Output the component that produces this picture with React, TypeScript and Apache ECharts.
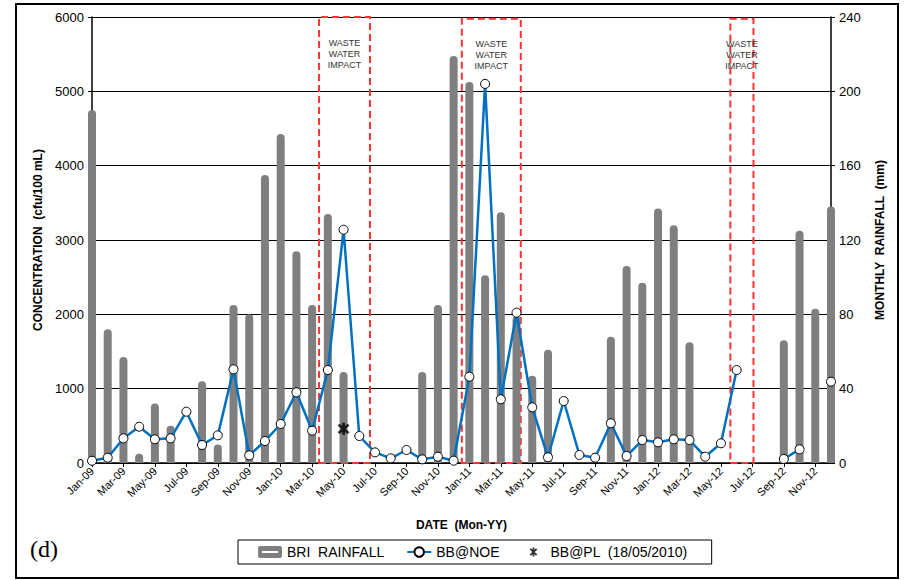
import React, { useEffect, useRef } from "react";
import * as echarts from "echarts";

// Month positions: 0 = Jan-09 ... 47 = Dec-12
const tickLabels = [
  "Jan-09", "Mar-09", "May-09", "Jul-09", "Sep-09", "Nov-09",
  "Jan-10", "Mar-10", "May-10", "Jul-10", "Sep-10", "Nov-10",
  "Jan-11", "Mar-11", "May-11", "Jul-11", "Sep-11", "Nov-11",
  "Jan-12", "Mar-12", "May-12", "Jul-12", "Sep-12", "Nov-12",
];

// BRI monthly rainfall (mm), Jan-09 .. Dec-12
const rainfall = [
  190, 72, 57, 5, 32, 20, 0, 44, 10, 85, 80, 155,
  177, 114, 85, 134, 49, 0, 0, 0, 0, 49, 85, 219,
  205, 101, 135, 79, 47, 61, 0, 0, 0, 68, 106, 97,
  137, 128, 65, 0, 0, 0, 0, 0, 66, 125, 83, 138,
];

// BB@NOE concentration (cfu/100 mL), Jan-09 .. Dec-12 (null = no sample)
const bbNoe: (number | null)[] = [
  30, 71, 332, 488, 319, 332, 690, 242, 372, 1260, 103, 296,
  525, 951, 435, 1251, 3138, 363, 143, 63, 175, 49, 85, 31,
  1161, 5100, 857, 2022, 749, 77, 834, 108, 71, 534, 94, 309,
  278, 319, 309, 85, 265, 1251, null, null, 54, 184, null, 1094,
];

// BB@PL single sample (18/05/2010)
const bbPlMonth = 16;
const bbPlValue = 460;

// Waste water impact periods (in month-position units)
const impactStart = [14.44, 23.52, 40.6];
const impactEnd = [17.68, 27.27, 42.07];
const impactTop = [6000, 5975, 5975];

const FONT = "'Liberation Sans', Arial, sans-serif";

const asteriskPath =
  "path://M-1.1,-5.5 L1.1,-5.5 L1.1,5.5 L-1.1,5.5 Z " +
  "M3.1,4.7 L-4.7,-3.1 L-3.1,-4.7 L4.7,3.1 Z " +
  "M4.7,-3.1 L-3.1,4.7 L-4.7,3.1 L3.1,-4.7 Z";

const asteriskLegendPath =
  "path://M-12,-6 M12,6 M-0.9,-4.5 L0.9,-4.5 L0.9,4.5 L-0.9,4.5 Z " +
  "M2.5,3.8 L-3.8,-2.5 L-2.5,-3.8 L3.8,2.5 Z " +
  "M3.8,-2.5 L-2.5,3.8 L-3.8,2.5 L2.5,-3.8 Z";

const barLegendPath =
  "path://M2,0 L22,0 Q24,0 24,2 L24,10 Q24,12 22,12 L2,12 Q0,12 0,10 L0,2 Q0,0 2,0 Z M4,5 L4,7 L20,7 L20,5 Z";

export default function App() {
  const ref = useRef<HTMLDivElement>(null);

  useEffect(() => {
    document.body.style.margin = "0";
    if (!ref.current) return;
    const chart = echarts.init(ref.current, undefined, { renderer: "svg" });

    const months = rainfall.map((_, i) => i);
    const barData = months.map((m) => [m, rainfall[m]]);
    const lineData = months.map((m) => [m, bbNoe[m] === null ? "-" : bbNoe[m]]);

    const markAreaData = impactStart.map((s, k) => [
      {
        xAxis: s,
        yAxis: 0,
        label: {
          show: true,
          position: "insideTop",
          distance: 21,
          formatter: "WASTE\nWATER\nIMPACT",
          color: "#333",
          fontSize: 9,
          lineHeight: 11,
          fontFamily: FONT,
        },
      },
      { xAxis: impactEnd[k], yAxis: impactTop[k] },
    ]);

    chart.setOption({
      animation: false,
      textStyle: { fontFamily: FONT },
      grid: { left: 92, right: 73, top: 17, bottom: 117 },
      legend: {
        left: 238,
        top: 540,
        padding: [5, 24, 5, 20],
        borderColor: "#000",
        borderWidth: 1,
        itemGap: 22,
        itemWidth: 24,
        itemHeight: 12,
        textStyle: { fontSize: 14, color: "#000", fontFamily: FONT },
        data: [
          { name: "BRI  RAINFALL", icon: barLegendPath, itemStyle: { color: "#7f7f7f" } },
          { name: "BB@NOE" },
          { name: "BB@PL  (18/05/2010)", icon: asteriskLegendPath, itemStyle: { color: "#000" } },
        ],
      },
      xAxis: {
        type: "value",
        min: 0,
        max: 47,
        interval: 2,
        name: "DATE  (Mon-YY)",
        nameLocation: "middle",
        nameGap: 56,
        nameTextStyle: { fontSize: 12, fontWeight: "bold", color: "#000" },
        axisLine: { lineStyle: { color: "#000", width: 1.5 } },
        axisTick: { show: true, length: 4, lineStyle: { color: "#000" } },
        splitLine: { show: false },
        axisLabel: {
          rotate: 45,
          fontSize: 11,
          color: "#000",
          margin: 6,
          showMaxLabel: false,
          formatter: (v: number) => tickLabels[Math.round(v / 2)] ?? "",
        },
      },
      yAxis: [
        {
          type: "value",
          min: 0,
          max: 6000,
          interval: 1000,
          name: "CONCENTRATION  (cfu/100 mL)",
          nameLocation: "middle",
          nameRotate: 90,
          nameGap: 46,
          nameTextStyle: { fontSize: 12, fontWeight: "bold", color: "#000" },
          axisLine: { show: true, lineStyle: { color: "#000", width: 1.5 } },
          axisTick: { show: true, length: 4, lineStyle: { color: "#000" } },
          axisLabel: { fontSize: 13, color: "#000", margin: 8, formatter: (v: number) => String(v) },
          splitLine: { show: true, lineStyle: { color: "#000", width: 1 } },
        },
        {
          type: "value",
          min: 0,
          max: 240,
          interval: 40,
          name: "MONTHLY  RAINFALL  (mm)",
          nameLocation: "middle",
          nameRotate: 90,
          nameGap: 43,
          nameTextStyle: { fontSize: 12, fontWeight: "bold", color: "#000" },
          axisLine: { show: true, lineStyle: { color: "#000", width: 1.5 } },
          axisTick: { show: true, length: 4, lineStyle: { color: "#000" } },
          axisLabel: { fontSize: 13, color: "#000", margin: 8, formatter: (v: number) => String(v) },
          splitLine: { show: false },
        },
      ],
      series: [
        {
          name: "BRI  RAINFALL",
          type: "bar",
          yAxisIndex: 1,
          barWidth: 8,
          clip: true,
          itemStyle: { color: "#7f7f7f", borderRadius: [4, 4, 0, 0] },
          data: barData,
          z: 2,
        },
        {
          name: "BB@NOE",
          type: "line",
          yAxisIndex: 0,
          data: lineData,
          connectNulls: false,
          symbol: "circle",
          symbolSize: 9,
          showAllSymbol: true,
          lineStyle: { color: "#0070C0", width: 2.5 },
          itemStyle: { color: "#fff", borderColor: "#000", borderWidth: 1 },
          z: 4,
          markArea: {
            silent: true,
            itemStyle: {
              color: "rgba(0,0,0,0)",
              borderColor: "#ff3333",
              borderWidth: 2,
              borderType: [7, 4],
            },
            data: markAreaData,
          },
        },
        {
          name: "BB@PL  (18/05/2010)",
          type: "scatter",
          yAxisIndex: 0,
          symbol: asteriskPath,
          symbolSize: 12,
          itemStyle: { color: "#000" },
          data: [[bbPlMonth, bbPlValue]],
          z: 5,
        },
      ],
      graphic: [
        {
          type: "rect",
          shape: { x: 16, y: 4, width: 882, height: 574 },
          style: { fill: "none", stroke: "#000", lineWidth: 2 },
          silent: true,
        },
        {
          type: "text",
          x: 30,
          y: 537,
          style: {
            text: "(d)",
            font: "24px 'Liberation Serif', 'Times New Roman', serif",
            fill: "#000",
          },
          silent: true,
        },
      ],
    });

    return () => chart.dispose();
  }, []);

  return <div ref={ref} style={{ width: 904, height: 580 }} />;
}
